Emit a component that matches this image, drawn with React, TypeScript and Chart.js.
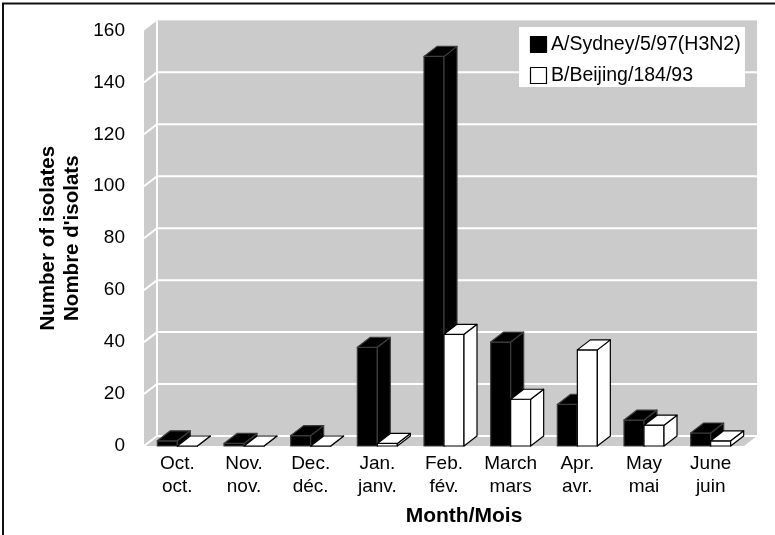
import React, { useEffect, useRef } from "react";
import { Chart, registerables } from "chart.js";

Chart.register(...registerables);

// Monthly influenza isolates, two strains
const months: string[][] = [
  ["Oct.", "oct."],
  ["Nov.", "nov."],
  ["Dec.", "déc."],
  ["Jan.", "janv."],
  ["Feb.", "fév."],
  ["March", "mars"],
  ["Apr.", "avr."],
  ["May", "mai"],
  ["June", "juin"],
];
const sydney = [2, 1, 4, 38, 150, 40, 16, 10, 5];
const beijing = [0, 0, 0, 1, 43, 18, 37, 8, 2];
const seriesNames = ["A/Sydney/5/97(H3N2)", "B/Beijing/184/93"];
const seriesFill = ["#000000", "#ffffff"];
const seriesEdge = ["#3c3c3c", "#000000"];
const yMax = 160;
const yStep = 20;
const yTitle = ["Number of isolates", "Nombre d'isolats"];
const xTitle = "Month/Mois";

const FONT = "'Liberation Sans', Arial, Helvetica, sans-serif";
const DX = 13; // depth offset of the 3-D box (right)
const DY = -10; // depth offset of the 3-D box (up)
const WALL = "#cbcbcb";

function poly(ctx: CanvasRenderingContext2D, pts: number[][]) {
  ctx.beginPath();
  ctx.moveTo(pts[0][0], pts[0][1]);
  for (let i = 1; i < pts.length; i++) ctx.lineTo(pts[i][0], pts[i][1]);
  ctx.closePath();
}

const depthPlugin = {
  id: "depth3d",
  beforeDraw(chart: any) {
    const { ctx, chartArea: a, scales } = chart;
    const y = scales.y;
    ctx.save();
    ctx.fillStyle = "#ffffff";
    ctx.fillRect(0, 0, chart.width, chart.height);

    // frame
    ctx.strokeStyle = "#111";
    ctx.lineWidth = 2;
    ctx.beginPath();
    ctx.moveTo(chart.width, 3.5);
    ctx.lineTo(3, 3.5);
    ctx.lineTo(3, chart.height);
    ctx.stroke();

    const top = y.getPixelForValue(yMax);
    const bot = y.getPixelForValue(0);
    ctx.fillStyle = WALL;
    // back wall
    ctx.fillRect(a.left + DX, top + DY, a.right - a.left, bot - top);
    // side wall
    poly(ctx, [
      [a.left, top],
      [a.left + DX, top + DY],
      [a.left + DX, bot + DY],
      [a.left, bot],
    ]);
    ctx.fill();
    // floor
    poly(ctx, [
      [a.left, bot],
      [a.right, bot],
      [a.right + DX, bot + DY],
      [a.left + DX, bot + DY],
    ]);
    ctx.fill();

    // grid lines on back and side walls
    ctx.strokeStyle = "#ffffff";
    ctx.lineWidth = 2;
    for (let v = 0; v < yMax; v += yStep) {
      const py = y.getPixelForValue(v);
      ctx.beginPath();
      ctx.moveTo(a.left, py);
      ctx.lineTo(a.left + DX, py + DY);
      ctx.lineTo(a.right + DX, py + DY);
      ctx.stroke();
    }
    // corner between side wall and back wall
    ctx.beginPath();
    ctx.moveTo(a.left + DX, top + DY);
    ctx.lineTo(a.left + DX, bot + DY);
    ctx.stroke();
    ctx.restore();
  },
  afterDatasetsDraw(chart: any) {
    const { ctx, chartArea: a } = chart;
    ctx.save();
    const n = chart.data.labels.length;
    for (let i = 0; i < n; i++) {
      for (let d = 0; d < chart.data.datasets.length; d++) {
        const el: any = chart.getDatasetMeta(d).data[i];
        const x0 = el.x - el.width / 2;
        const x1 = el.x + el.width / 2;
        const yt = el.y;
        const yb = el.base;
        ctx.fillStyle = seriesFill[d];
        ctx.strokeStyle = seriesEdge[d];
        ctx.lineWidth = 1.2;
        ctx.lineJoin = "round";
        // front face
        poly(ctx, [
          [x0, yt],
          [x1, yt],
          [x1, yb],
          [x0, yb],
        ]);
        ctx.fill();
        ctx.stroke();
        // side face
        poly(ctx, [
          [x1, yt],
          [x1 + DX, yt + DY],
          [x1 + DX, yb + DY],
          [x1, yb],
        ]);
        ctx.fill();
        ctx.stroke();
        // top face
        poly(ctx, [
          [x0, yt],
          [x1, yt],
          [x1 + DX, yt + DY],
          [x0 + DX, yt + DY],
        ]);
        ctx.fill();
        ctx.stroke();
      }
    }

    // legend
    const lx = 519;
    const ly = 27;
    const lw = a.right + 1 - lx;
    ctx.fillStyle = "#ffffff";
    ctx.fillRect(lx, ly, lw, 60);
    ctx.font = `19.5px ${FONT}`;
    ctx.textBaseline = "middle";
    ctx.textAlign = "left";
    chart.data.datasets.forEach((ds: any, d: number) => {
      const cy = 44 + d * 31;
      ctx.fillStyle = seriesFill[d];
      ctx.fillRect(530, cy - 8, 17, 17);
      ctx.strokeStyle = "#000";
      ctx.lineWidth = 1.2;
      ctx.strokeRect(530.5, cy - 7.5, 16, 16);
      ctx.fillStyle = "#000";
      ctx.fillText(ds.label, 551, cy + 1);
    });

    // x axis title
    ctx.font = `bold 21px ${FONT}`;
    ctx.textAlign = "center";
    ctx.fillStyle = "#000";
    ctx.fillText(xTitle, 464, 516);
    ctx.restore();
  },
};

export default function App() {
  const ref = useRef<HTMLCanvasElement>(null);

  useEffect(() => {
    const chart = new Chart(ref.current as HTMLCanvasElement, {
      type: "bar",
      data: {
        labels: months,
        datasets: seriesNames.map((label, d) => ({
          label,
          data: d === 0 ? sydney : beijing,
          backgroundColor: "rgba(0,0,0,0)",
          borderWidth: 0,
          categoryPercentage: 0.6,
          barPercentage: 1,
        })),
      },
      options: {
        responsive: false,
        animation: false,
        devicePixelRatio: 1,
        layout: { padding: { top: 26, right: 31, left: 0, bottom: 0 } },
        plugins: {
          legend: { display: false },
          tooltip: { enabled: false },
        },
        scales: {
          x: {
            grid: { display: false, drawTicks: false },
            border: { display: false },
            ticks: {
              color: "#000",
              font: { family: FONT, size: 19, lineHeight: 1.21 },
              padding: 6,
              autoSkip: false,
              maxRotation: 0,
            },
            afterFit: (s: any) => {
              s.height = 89;
            },
          },
          y: {
            min: 0,
            max: yMax,
            grid: { display: false, drawTicks: false },
            border: { display: false },
            ticks: {
              stepSize: yStep,
              color: "#000",
              font: { family: FONT, size: 19 },
              padding: 19,
            },
            title: {
              display: true,
              text: yTitle,
              color: "#000",
              font: { family: FONT, size: 20.5, weight: "bold", lineHeight: 1.17 },
              padding: { top: 36, bottom: 0 },
            },
            afterFit: (s: any) => {
              s.width = 144;
            },
          },
        },
      } as any,
      plugins: [depthPlugin],
    });
    return () => chart.destroy();
  }, []);

  return (
    <div style={{ position: "fixed", left: 0, top: 0, width: 775, height: 535, background: "#fff" }}>
      <canvas ref={ref} width={775} height={535} style={{ display: "block", width: 775, height: 535 }} />
    </div>
  );
}
